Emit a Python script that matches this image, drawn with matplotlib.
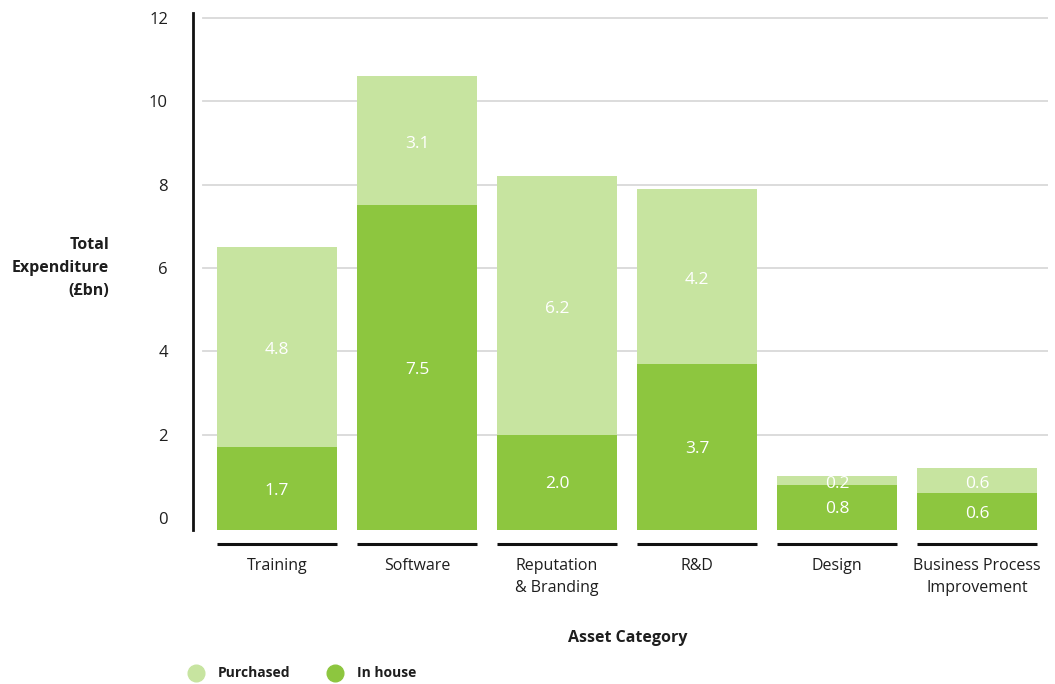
import matplotlib
matplotlib.use('Agg')
import matplotlib.pyplot as plt
from matplotlib.lines import Line2D
import numpy as np

plt.rcParams['font.family'] = ['Open Sans', 'DejaVu Sans']

# asset categories and spend split (GBP bn)
categories = ['Training', 'Software', 'Reputation\n& Branding', 'R&D',
              'Design', 'Business Process\nImprovement']
in_house = [1.7, 7.5, 2.0, 3.7, 0.8, 0.6]
purchased = [4.8, 3.1, 6.2, 4.2, 0.2, 0.6]
y_ticks = [0, 2, 4, 6, 8, 10, 12]

light_green = '#c7e4a0'
dark_green = '#8dc63f'
text_col = '#1e1e1e'

W, H = 1055, 684
fig = plt.figure(figsize=(W / 100, H / 100), dpi=100)
ax = fig.add_axes([193 / W, 1 - 530 / H, (1048 - 193) / W, (530 - 13) / H])

floor = -0.29
ax.set_ylim(floor, 12.12)
ax.set_xlim(-0.6, 5.507)

x = np.arange(len(categories))
width = 0.857
inh = np.array(in_house)
pur = np.array(purchased)

# gridlines behind the bars, starting just right of the spine
for t in y_ticks[1:]:
    ax.axhline(t, xmin=10 / 855, xmax=1, color='#d9d9d9', lw=1.3, zorder=0)

ax.bar(x, inh - floor, bottom=floor, width=width, color=dark_green, zorder=2)
ax.bar(x, pur, bottom=inh, width=width, color=light_green, zorder=2)

for i in range(len(x)):
    ax.text(x[i], (floor + inh[i]) / 2 - 0.05, f'{inh[i]:.1f}', ha='center', va='center',
            color='white', fontsize=12.5, zorder=3)
    ax.text(x[i], inh[i] + pur[i] / 2 - 0.08, f'{pur[i]:.1f}', ha='center', va='center',
            color='white', fontsize=12.5, zorder=3)

# black rule under each bar and the category names
trans = ax.get_xaxis_transform()
for i, name in enumerate(categories):
    ax.plot([x[i] - width / 2, x[i] + width / 2], [-14 / 517, -14 / 517], color='#111111',
            lw=2.2, transform=trans, clip_on=False, solid_capstyle='butt')
    ax.text(x[i], -28 / 517, name, transform=trans, ha='center', va='top',
            fontsize=11.5, color=text_col, linespacing=1.5)

for s in ['top', 'right', 'bottom']:
    ax.spines[s].set_visible(False)
ax.spines['left'].set_linewidth(2)
ax.spines['left'].set_color('#111111')

ax.set_yticks(y_ticks)
ax.set_yticklabels([str(t) for t in y_ticks], fontsize=12, color=text_col)
ax.tick_params(axis='y', length=0, pad=18)
ax.set_xticks([])

fig.text(109 / W, 1 - 268 / H, 'Total\nExpenditure\n(£bn)', ha='right', va='center',
         fontsize=11.5, fontweight='bold', color=text_col, linespacing=1.6)
fig.text(628 / W, 1 - 638 / H, 'Asset Category', ha='center', va='center',
         fontsize=11.5, fontweight='bold', color=text_col)

# legend as coloured dots
for cx, col, lab in [(196, light_green, 'Purchased'), (335, dark_green, 'In house')]:
    fig.add_artist(Line2D([cx / W], [1 - 673 / H], marker='o', markersize=12,
                          color=col, linestyle='none', transform=fig.transFigure))
    fig.text((cx + 22) / W, 1 - 673 / H, lab, ha='left', va='center', fontsize=10,
             fontweight='bold', color=text_col)

fig.savefig('out.png', dpi=100)
